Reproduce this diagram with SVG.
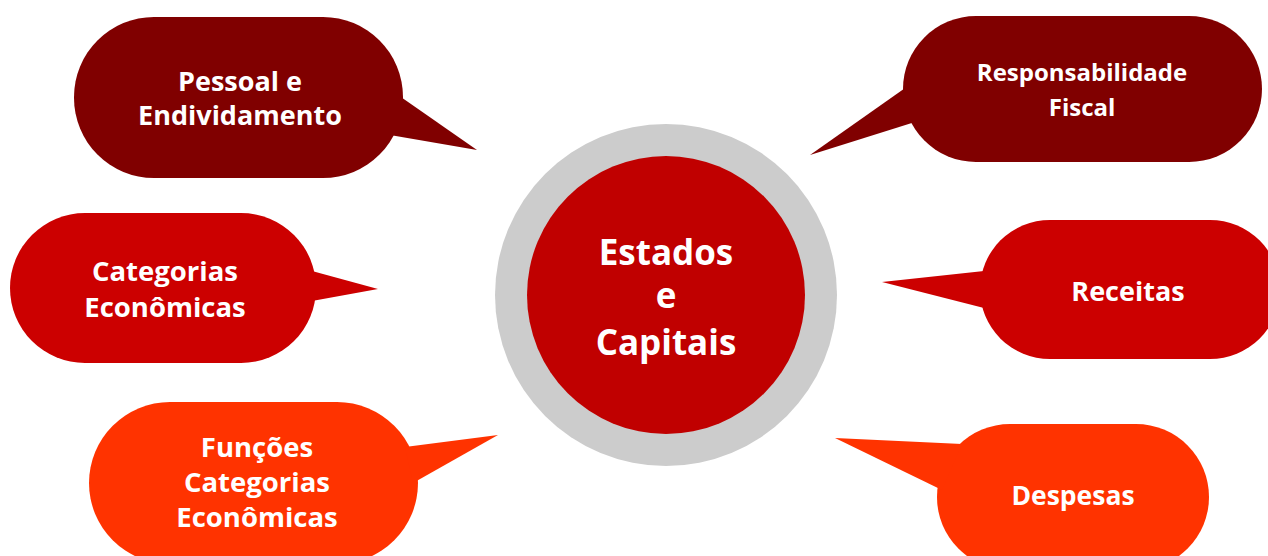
<svg xmlns="http://www.w3.org/2000/svg" width="1268" height="556" viewBox="0 0 1268 556">
<style>
.t{font-family:"Open Sans","Liberation Sans",sans-serif;font-weight:bold;fill:#FFFFFF;text-anchor:middle}
.dk{fill:#800000}
.md{fill:#CC0000}
.lt{fill:#FF3300}
</style>
<rect width="1268" height="556" fill="#FFFFFF"/>
<g id="connectors"></g>
<g id="center">
<circle cx="666" cy="295" r="171" fill="#CCCCCC"/>
<circle cx="666" cy="295" r="139" fill="#C00000"/>
<text class="t" font-size="35" x="666" y="265">Estados</text>
<text class="t" font-size="35" x="666" y="308">e</text>
<text class="t" font-size="35" x="666" y="355">Capitais</text>
</g>
<g id="pessoal">
<rect class="dk" x="74" y="17" width="329" height="161" rx="80" ry="80"/>
<polygon class="dk" points="398,95 477,150 390,135"/>
<text class="t" font-size="27" x="240" y="91">Pessoal e</text>
<text class="t" font-size="27" x="240" y="125">Endividamento</text>
</g>
<g id="responsabilidade">
<rect class="dk" x="903" y="16" width="359" height="146" rx="73" ry="73"/>
<polygon class="dk" points="908,86 810,155 915,122"/>
<text class="t" font-size="24" x="1082" y="81">Responsabilidade</text>
<text class="t" font-size="24" x="1082" y="116">Fiscal</text>
</g>
<g id="categorias">
<rect class="md" x="10" y="213" width="306" height="150" rx="75" ry="75"/>
<polygon class="md" points="312,271 378,289 312,301"/>
<text class="t" font-size="27.5" x="165" y="281">Categorias</text>
<text class="t" font-size="27.5" x="165" y="317">Econômicas</text>
</g>
<g id="receitas">
<rect class="md" x="980" y="220" width="300" height="139" rx="70" ry="70"/>
<polygon class="md" points="984,271 882,282 984,308"/>
<text class="t" font-size="27" x="1128" y="301">Receitas</text>
</g>
<g id="funcoes">
<rect class="lt" x="89" y="402" width="329" height="162" rx="81" ry="81"/>
<polygon class="lt" points="405,447 498,435 413,483"/>
<text class="t" font-size="27.5" x="257" y="457">Funções</text>
<text class="t" font-size="27.5" x="257" y="492">Categorias</text>
<text class="t" font-size="27.5" x="257" y="527">Econômicas</text>
</g>
<g id="despesas">
<rect class="lt" x="937" y="424" width="272" height="146" rx="73" ry="73"/>
<polygon class="lt" points="962,444 835,438 942,490"/>
<text class="t" font-size="26.5" x="1073" y="505">Despesas</text>
</g>
</svg>
